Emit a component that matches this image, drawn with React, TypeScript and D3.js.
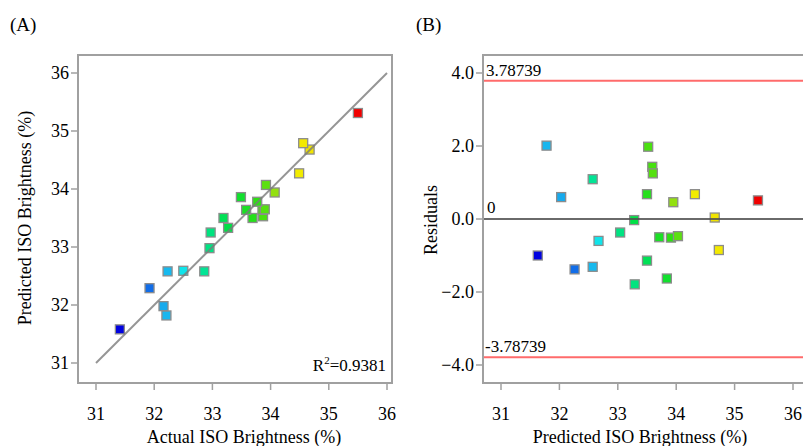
import React from "react";
import * as d3 from "d3";

const width = 803;
const height = 446;
const font = '"Liberation Serif", "Times New Roman", "DejaVu Serif", serif';

// run order matched between the two panels
const actual = [31.41, 32.21, 32.16, 31.92, 32.23, 32.5, 32.86, 32.95, 32.97, 33.27, 33.19, 33.69, 33.87, 33.58, 33.86, 33.9, 33.77, 33.49, 34.07, 33.92, 34.49, 34.67, 34.56, 35.5];
const predicted = [31.58, 31.82, 31.98, 32.29, 32.58, 32.59, 32.58, 32.98, 33.25, 33.33, 33.5, 33.5, 33.53, 33.64, 33.64, 33.65, 33.78, 33.86, 33.94, 34.07, 34.27, 34.68, 34.79, 35.31];
const residualX = [31.63, 31.78, 32.03, 32.26, 32.57, 32.67, 32.57, 33.04, 33.29, 33.28, 33.5, 33.5, 33.52, 33.71, 33.59, 33.6, 33.91, 33.84, 33.95, 34.03, 34.32, 34.66, 34.73, 35.4];
const residuals = [-1.0, 2.01, 0.6, -1.38, -1.31, -0.6, 1.09, -0.37, -1.79, -0.03, -1.14, 0.68, 1.98, -0.5, 1.43, 1.25, -0.51, -1.63, 0.46, -0.47, 0.68, 0.04, -0.85, 0.51];

const brightTicks = [31, 32, 33, 34, 35, 36];
const residTicks = [4, 2, 0, -2, -4];
const limit = 3.78739;
const r2 = "0.9381";

const colour = d3
  .scaleLinear<string>()
  .domain([31.4, 31.9, 32.2, 32.5, 32.9, 33.3, 33.8, 34.1, 34.5, 34.75, 35.5])
  .range(["#0000e0", "#1068e8", "#18b4ee", "#10e4ea", "#00e48c", "#00e040", "#30e010", "#9ee010", "#f4ec00", "#f0e000", "#f00000"])
  .clamp(true);

// panel frames
const A = { left: 78, right: 392, top: 55, bottom: 383 };
const B = { left: 483, right: 812, top: 55, bottom: 383 };

const xA = d3.scaleLinear().domain([31, 36]).range([96, 387]);
const yA = d3.scaleLinear().domain([31, 36]).range([363, 73]);
const xB = d3.scaleLinear().domain([31, 36]).range([501, 793]);
const yB = d3.scaleLinear().domain([-4, 4]).range([365, 73]);

const line = d3.line<number>();
const frameGray = "#a0a0a0";

function Marker({ x, y, fill }: { x: number; y: number; fill: string }) {
  const s = 9;
  return <rect x={x - s / 2} y={y - s / 2} width={s} height={s} fill={fill} stroke="#8c8c8c" strokeWidth={1.3} />;
}

function Frame({ f }: { f: typeof A }) {
  return (
    <rect x={f.left} y={f.top} width={f.right - f.left} height={f.bottom - f.top} fill="none" stroke={frameGray} strokeWidth={2} />
  );
}

export default function App() {
  return (
    <svg width={width} height={height} style={{ position: "absolute", left: 0, top: 0, background: "#fff", fontFamily: font }}>
      {/* ---------- (A) ---------- */}
      <text x={10} y={31} fontSize={19}>(A)</text>
      <Frame f={A} />
      {brightTicks.map(t => (
        <g key={"ay" + t}>
          <line x1={A.left - 7} x2={A.left} y1={yA(t)} y2={yA(t)} stroke={frameGray} strokeWidth={1.5} />
          <text x={A.left - 9} y={yA(t)} dy="0.34em" textAnchor="end" fontSize={18}>{t}</text>
        </g>
      ))}
      {brightTicks.map(t => (
        <g key={"ax" + t}>
          <line x1={xA(t)} x2={xA(t)} y1={A.bottom} y2={A.bottom + 7} stroke={frameGray} strokeWidth={1.5} />
          <text x={xA(t)} y={420} textAnchor="middle" fontSize={18}>{t}</text>
        </g>
      ))}
      {actual.map((a, i) => (
        <Marker key={"pa" + i} x={xA(a)} y={yA(predicted[i])} fill={colour(a)} />
      ))}
      <path
        d={line([[xA(31), yA(31)], [xA(36), yA(36)]] as any) || ""}
        stroke="#7a7a7a"
        strokeOpacity={0.8}
        strokeWidth={2}
        fill="none"
      />
      <text x={386} y={371} textAnchor="end" fontSize={17}>
        R<tspan dy={-7} fontSize={11}>2</tspan><tspan dy={7}>={r2}</tspan>
      </text>
      <text x={244} y={443} textAnchor="middle" fontSize={18}>Actual ISO Brightness (%)</text>
      <text transform="translate(31,218) rotate(-90)" textAnchor="middle" fontSize={18}>Predicted ISO Brightness (%)</text>

      {/* ---------- (B) ---------- */}
      <text x={416} y={31} fontSize={19}>(B)</text>
      <Frame f={B} />
      {residTicks.map(t => (
        <g key={"by" + t}>
          <line x1={B.left - 7} x2={B.left} y1={yB(t)} y2={yB(t)} stroke={frameGray} strokeWidth={1.5} />
          <text x={B.left - 9} y={yB(t)} dy="0.34em" textAnchor="end" fontSize={18}>{d3.format(".1f")(t)}</text>
        </g>
      ))}
      {brightTicks.map(t => (
        <g key={"bx" + t}>
          <line x1={xB(t)} x2={xB(t)} y1={B.bottom} y2={B.bottom + 7} stroke={frameGray} strokeWidth={1.5} />
          <text x={xB(t)} y={420} textAnchor="middle" fontSize={18}>{t}</text>
        </g>
      ))}
      {[limit, -limit].map(v => (
        <line key={"lim" + v} x1={B.left + 1} x2={B.right} y1={yB(v)} y2={yB(v)} stroke="#ff6b6b" strokeWidth={2} />
      ))}
      <text x={486} y={76} fontSize={17}>{limit}</text>
      <text x={485} y={352} fontSize={17}>{"-" + limit}</text>
      <text x={487} y={213} fontSize={17}>0</text>
      {residualX.map((p, i) => (
        <Marker key={"pb" + i} x={xB(p)} y={yB(residuals[i])} fill={colour(actual[i])} />
      ))}
      <line x1={B.left + 1} x2={B.right} y1={yB(0)} y2={yB(0)} stroke="#505050" strokeOpacity={0.85} strokeWidth={2} />
      <text x={640} y={443} textAnchor="middle" fontSize={18}>Predicted ISO Brightness (%)</text>
      <text transform="translate(437,220) rotate(-90)" textAnchor="middle" fontSize={18}>Residuals</text>
    </svg>
  );
}
